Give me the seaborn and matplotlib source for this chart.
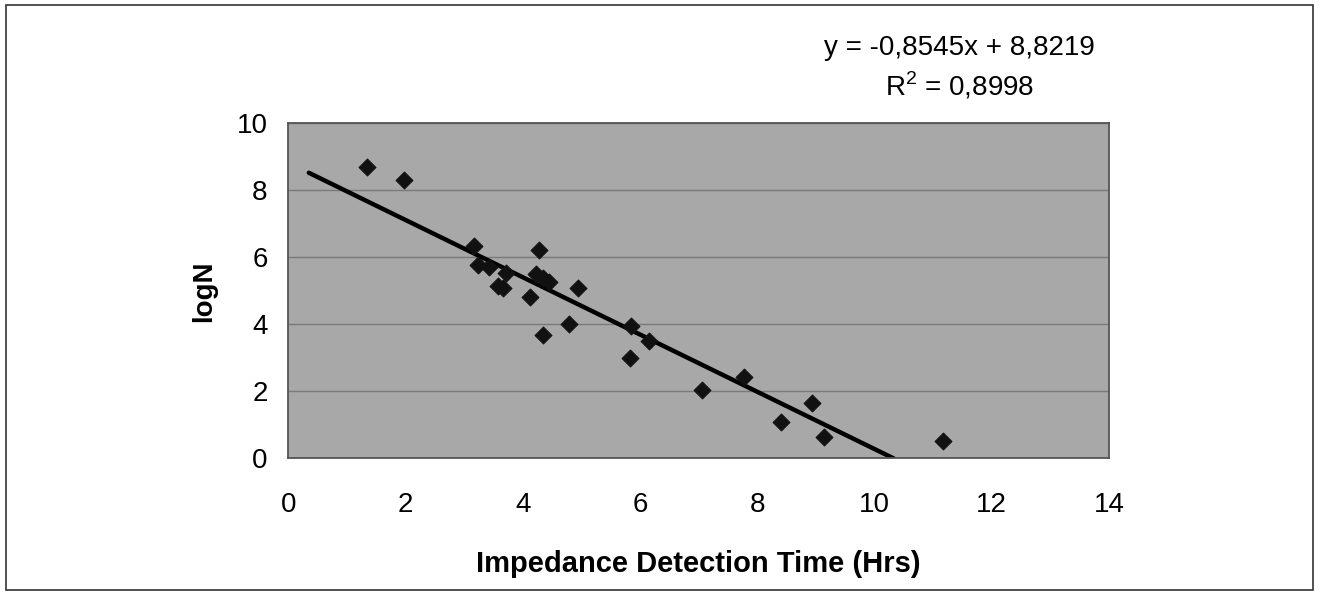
import numpy as np
import pandas as pd
import matplotlib
matplotlib.use("Agg")
import matplotlib.pyplot as plt
import seaborn as sns
from matplotlib.patches import Rectangle

# values
detection_time = [1.34, 1.97, 3.16, 3.23, 3.42, 3.58, 3.66, 3.71, 4.12, 4.28,
                  4.22, 4.34, 4.44, 4.35, 4.78, 4.94, 5.84, 5.83, 6.15, 7.06,
                  7.78, 8.40, 8.93, 9.13, 11.17]
log_n = [8.69, 8.31, 6.35, 5.77, 5.70, 5.15, 5.07, 5.52, 4.82, 6.22,
         5.49, 5.37, 5.27, 3.68, 4.01, 5.07, 3.95, 2.99, 3.50, 2.04,
         2.44, 1.07, 1.66, 0.64, 0.52]
slope = -0.8545
intercept = 8.8219
trend_start = 0.35
x_ticks = [0, 2, 4, 6, 8, 10, 12, 14]
y_ticks = [0, 2, 4, 6, 8, 10]

df = pd.DataFrame({"time": detection_time, "logN": log_n})
trend_x = np.array([trend_start, -intercept / slope])
trend = pd.DataFrame({"time": trend_x, "logN": slope * trend_x + intercept})

sns.set_style("white")
plt.rcParams["font.family"] = ["Liberation Sans", "DejaVu Sans"]
plt.rcParams["mathtext.fontset"] = "custom"
plt.rcParams["mathtext.rm"] = "Liberation Sans"
plt.rcParams["text.color"] = "black"
plt.rcParams["axes.labelcolor"] = "black"
plt.rcParams["xtick.labelcolor"] = "black"
plt.rcParams["ytick.labelcolor"] = "black"

fig = plt.figure(figsize=(13.19, 5.95), dpi=100)
ax = fig.add_axes([0.2186, 0.2297, 0.6222, 0.5631])
ax.set_facecolor("#a8a8a8")

sns.lineplot(data=trend, x="time", y="logN", color="black", linewidth=3.2, ax=ax)
sns.scatterplot(data=df, x="time", y="logN", marker="D", s=75, color="#111111",
                edgecolor="#111111", ax=ax, zorder=3)

ax.set_xlim(0, 14)
ax.set_ylim(0, 10)
ax.set_xticks(x_ticks)
ax.set_yticks(y_ticks)
ax.grid(axis="y", color="#7a7a7a", linewidth=1)
ax.set_axisbelow(True)
for s in ax.spines.values():
    s.set_color("#555555")
    s.set_linewidth(1.3)
ax.tick_params(axis="both", direction="out", length=7, width=1, color="#999999",
               labelsize=20, pad=8)
ax.tick_params(axis="x", pad=17)

ax.set_xlabel("Impedance Detection Time (Hrs)", fontsize=21, fontweight="bold", labelpad=23)
ax.set_ylabel("logN", fontsize=20, fontweight="bold", labelpad=14)

ax.text(0.818, 1.226, "y = -0,8545x + 8,8219", transform=ax.transAxes,
        ha="center", va="center", fontsize=20)
ax.text(0.818, 1.112, r"R$^2$ = 0,8998", transform=ax.transAxes,
        ha="center", va="center", fontsize=20)

fig.patches.append(Rectangle((6 / 1319, 5 / 595), 1307 / 1319, 585 / 595,
                             transform=fig.transFigure, fill=False,
                             edgecolor="#333333", linewidth=1.2))

fig.savefig("out.png", dpi=100)
